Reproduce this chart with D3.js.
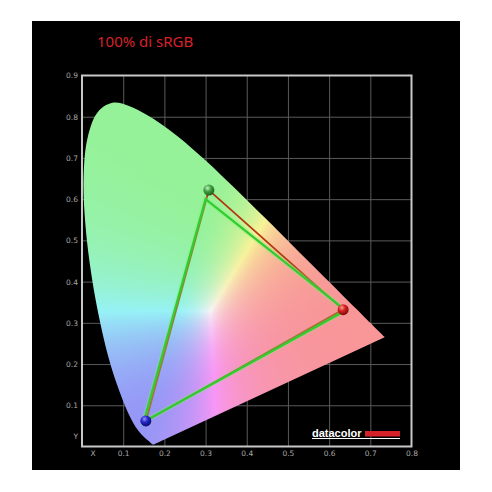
<!DOCTYPE html>
<html>
<head>
<meta charset="utf-8">
<script src="https://cdn.jsdelivr.net/npm/d3@7"></script>
<style>
body { margin: 0; background: #fff; }
svg { display: block; }
</style>
</head>
<body>
<svg width="492" height="492"></svg>
<script>
'use strict';

// CIE 1931 spectral locus (5 nm steps)
var locusX = [0.1741, 0.1740, 0.1738, 0.1736, 0.1733, 0.1730, 0.1726, 0.1721, 0.1714, 0.1703,
    0.1689, 0.1669, 0.1644, 0.1611, 0.1566, 0.1510, 0.1440, 0.1355, 0.1241, 0.1096,
    0.0913, 0.0687, 0.0454, 0.0235, 0.0082, 0.0039, 0.0139, 0.0389, 0.0743, 0.1142,
    0.1547, 0.1929, 0.2296, 0.2658, 0.3016, 0.3373, 0.3731, 0.4087, 0.4441, 0.4788,
    0.5125, 0.5448, 0.5752, 0.6029, 0.6270, 0.6482, 0.6658, 0.6801, 0.6915, 0.7006,
    0.7079, 0.7140, 0.7190, 0.7230, 0.7260, 0.7283, 0.7300, 0.7311, 0.7320, 0.7334, 0.7347];
var locusY = [0.0050, 0.0050, 0.0049, 0.0049, 0.0048, 0.0048, 0.0048, 0.0048, 0.0051, 0.0058,
    0.0069, 0.0086, 0.0109, 0.0138, 0.0177, 0.0227, 0.0297, 0.0399, 0.0578, 0.0868,
    0.1327, 0.2007, 0.2950, 0.4127, 0.5384, 0.6548, 0.7502, 0.8120, 0.8338, 0.8262,
    0.8059, 0.7816, 0.7543, 0.7243, 0.6923, 0.6589, 0.6245, 0.5896, 0.5547, 0.5202,
    0.4866, 0.4544, 0.4242, 0.3965, 0.3725, 0.3514, 0.3340, 0.3197, 0.3083, 0.2993,
    0.2920, 0.2859, 0.2809, 0.2770, 0.2740, 0.2717, 0.2700, 0.2689, 0.2680, 0.2666, 0.2653];

// primaries: measured display vs sRGB target
var primaries = ['R', 'G', 'B'];
var measuredX = [0.634, 0.308, 0.155];
var measuredY = [0.332, 0.622, 0.062];
var srgbX = [0.64, 0.30, 0.15];
var srgbY = [0.33, 0.60, 0.06];

var xTicks = [0, 0.1, 0.2, 0.3, 0.4, 0.5, 0.6, 0.7, 0.8];
var xTickLabels = ['X', '0.1', '0.2', '0.3', '0.4', '0.5', '0.6', '0.7', '0.8'];
var yTicks = [0, 0.1, 0.2, 0.3, 0.4, 0.5, 0.6, 0.7, 0.8, 0.9];
var yTickLabels = ['Y', '0.1', '0.2', '0.3', '0.4', '0.5', '0.6', '0.7', '0.8', '0.9'];

var title = '100% di sRGB';

var svg = d3.select('svg');

var x = d3.scaleLinear().domain([0, 0.8]).range([82, 411.5]);
var y = d3.scaleLinear().domain([0, 0.9]).range([446.5, 75.5]);

var defs = svg.append('defs');

// black panel
svg.append('rect')
    .attr('x', 32).attr('y', 21)
    .attr('width', 428).attr('height', 449)
    .attr('fill', '#000');

svg.append('text')
    .attr('x', 97).attr('y', 47)
    .attr('fill', '#d8202a')
    .style('font-family', '"Noto Sans", sans-serif')
    .style('font-size', '15px')
    .text(title);

// grid
svg.append('g')
    .attr('transform', 'translate(0,' + y(0) + ')')
    .call(d3.axisBottom(x).tickValues(xTicks.slice(1, -1)).tickSize(y(0.9) - y(0)).tickFormat(''))
    .call(function(g) { g.select('.domain').remove(); })
    .selectAll('line').attr('stroke', '#5a5a5a');

svg.append('g')
    .attr('transform', 'translate(' + x(0) + ',0)')
    .call(d3.axisLeft(y).tickValues(yTicks.slice(1, -1)).tickSize(x(0) - x(0.8)).tickFormat(''))
    .call(function(g) { g.select('.domain').remove(); })
    .selectAll('line').attr('stroke', '#5a5a5a');

// colour fill of the horseshoe
var locus = locusX.map(function(d, i) { return [d, locusY[i]]; });
var locusLine = d3.line()
    .x(function(d) { return x(d[0]); })
    .y(function(d) { return y(d[1]); })
    .curve(d3.curveCatmullRom);

defs.append('clipPath').attr('id', 'locus-clip')
    .append('path').attr('d', locusLine(locus) + 'Z');

var x0 = Math.floor(x(0)), y0 = Math.floor(y(0.9));
var cw = Math.ceil(x(0.8)) - x0, ch = Math.ceil(y(0)) - y0;
var cnv = document.createElement('canvas');
cnv.width = cw; cnv.height = ch;
var ctx = cnv.getContext('2d');
var img = ctx.createImageData(cw, ch);
for (var j = 0; j < ch; j++) {
    for (var i = 0; i < cw; i++) {
        var cx = x.invert(x0 + i + 0.5), cy = Math.max(y.invert(y0 + j + 0.5), 0.002);
        var X = cx / cy, Y = 1, Z = (1 - cx - cy) / cy;
        var r = 3.2406 * X - 1.5372 * Y - 0.4986 * Z;
        var g = -0.9689 * X + 1.8758 * Y + 0.0415 * Z;
        var b = 0.0557 * X - 0.2040 * Y + 1.0570 * Z;
        r = Math.max(r, 0); g = Math.max(g, 0); b = Math.max(b, 0);
        var m = Math.max(r, g, b) || 1;
        var k = (j * cw + i) * 4;
        img.data[k] = 150 + 98 * Math.pow(r / m, 1.5);
        img.data[k + 1] = 150 + 92 * Math.pow(g / m, 1.5);
        img.data[k + 2] = 152 + 94 * Math.pow(b / m, 1.5);
        img.data[k + 3] = 255;
    }
}
ctx.putImageData(img, 0, 0);

svg.append('image')
    .attr('x', x0).attr('y', y0)
    .attr('width', cw).attr('height', ch)
    .attr('href', cnv.toDataURL())
    .attr('clip-path', 'url(#locus-clip)');

// frame
svg.append('rect')
    .attr('x', x(0)).attr('y', y(0.9))
    .attr('width', x(0.8) - x(0)).attr('height', y(0) - y(0.9))
    .attr('fill', 'none')
    .attr('stroke', '#c8c8c8')
    .attr('stroke-width', 2);

// tick labels
var xAxis = svg.append('g')
    .attr('transform', 'translate(0,' + y(0) + ')')
    .call(d3.axisBottom(x).tickValues(xTicks).tickSize(0).tickPadding(4)
        .tickFormat(function(d, i) { return xTickLabels[i]; }));
xAxis.select('.domain').remove();
xAxis.selectAll('.tick').filter(function(d, i) { return i === 0; })
    .attr('transform', 'translate(' + (x(0) + 11) + ',0)');

var yAxis = svg.append('g')
    .attr('transform', 'translate(' + x(0) + ',0)')
    .call(d3.axisLeft(y).tickValues(yTicks).tickSize(0).tickPadding(4)
        .tickFormat(function(d, i) { return yTickLabels[i]; }));
yAxis.select('.domain').remove();
yAxis.selectAll('.tick').filter(function(d, i) { return i === 0; })
    .attr('transform', 'translate(0,' + (y(0) - 10) + ')');

svg.selectAll('.tick text')
    .attr('fill', '#a8a8a8')
    .style('font-family', '"DejaVu Sans", sans-serif')
    .style('font-size', '7.5px');

// triangles
function triPath(xs, ys) {
    return xs.map(function(d, i) { return (i ? 'L' : 'M') + x(d) + ',' + y(ys[i]); }).join('') + 'Z';
}

svg.append('path')
    .attr('d', triPath(measuredX, measuredY))
    .attr('fill', 'none')
    .attr('stroke', '#b5380f')
    .attr('stroke-width', 1.8)
    .attr('stroke-linejoin', 'round');

svg.append('path')
    .attr('d', triPath(srgbX, srgbY))
    .attr('fill', 'none')
    .attr('stroke', '#7cf07c')
    .attr('stroke-opacity', 0.35)
    .attr('stroke-width', 5);

svg.append('path')
    .attr('d', triPath(srgbX, srgbY))
    .attr('fill', 'none')
    .attr('stroke', '#33cc2e')
    .attr('stroke-width', 2.2);

// sphere markers
var dotColors = [['#ff9a9a', '#d42020', '#7a0a0a'], ['#c8f0c8', '#3fa23f', '#1c5a1c'], ['#9090ff', '#2626c8', '#0c0c6a']];
primaries.forEach(function(p, i) {
    var grad = defs.append('radialGradient')
        .attr('id', 'dot-' + p)
        .attr('cx', '38%').attr('cy', '32%').attr('r', '70%');
    grad.append('stop').attr('offset', '0%').attr('stop-color', dotColors[i][0]);
    grad.append('stop').attr('offset', '45%').attr('stop-color', dotColors[i][1]);
    grad.append('stop').attr('offset', '100%').attr('stop-color', dotColors[i][2]);
});

svg.selectAll('.dot')
    .data(primaries)
    .enter()
    .append('circle')
    .attr('class', 'dot')
    .attr('cx', function(d, i) { return x(measuredX[i]); })
    .attr('cy', function(d, i) { return y(measuredY[i]); })
    .attr('r', 5.5)
    .attr('fill', function(d) { return 'url(#dot-' + d + ')'; });

// datacolor logo
svg.append('text')
    .attr('x', 312).attr('y', 436.5)
    .attr('fill', '#fff')
    .style('font-family', '"Liberation Sans", sans-serif')
    .style('font-weight', 'bold')
    .style('font-size', '11px')
    .text('datacolor');
svg.append('rect')
    .attr('x', 365).attr('y', 431)
    .attr('width', 35).attr('height', 5.5)
    .attr('fill', '#d8202a');
svg.append('rect')
    .attr('x', 312).attr('y', 438)
    .attr('width', 88).attr('height', 1)
    .attr('fill', '#fff');
</script>
</body>
</html>
